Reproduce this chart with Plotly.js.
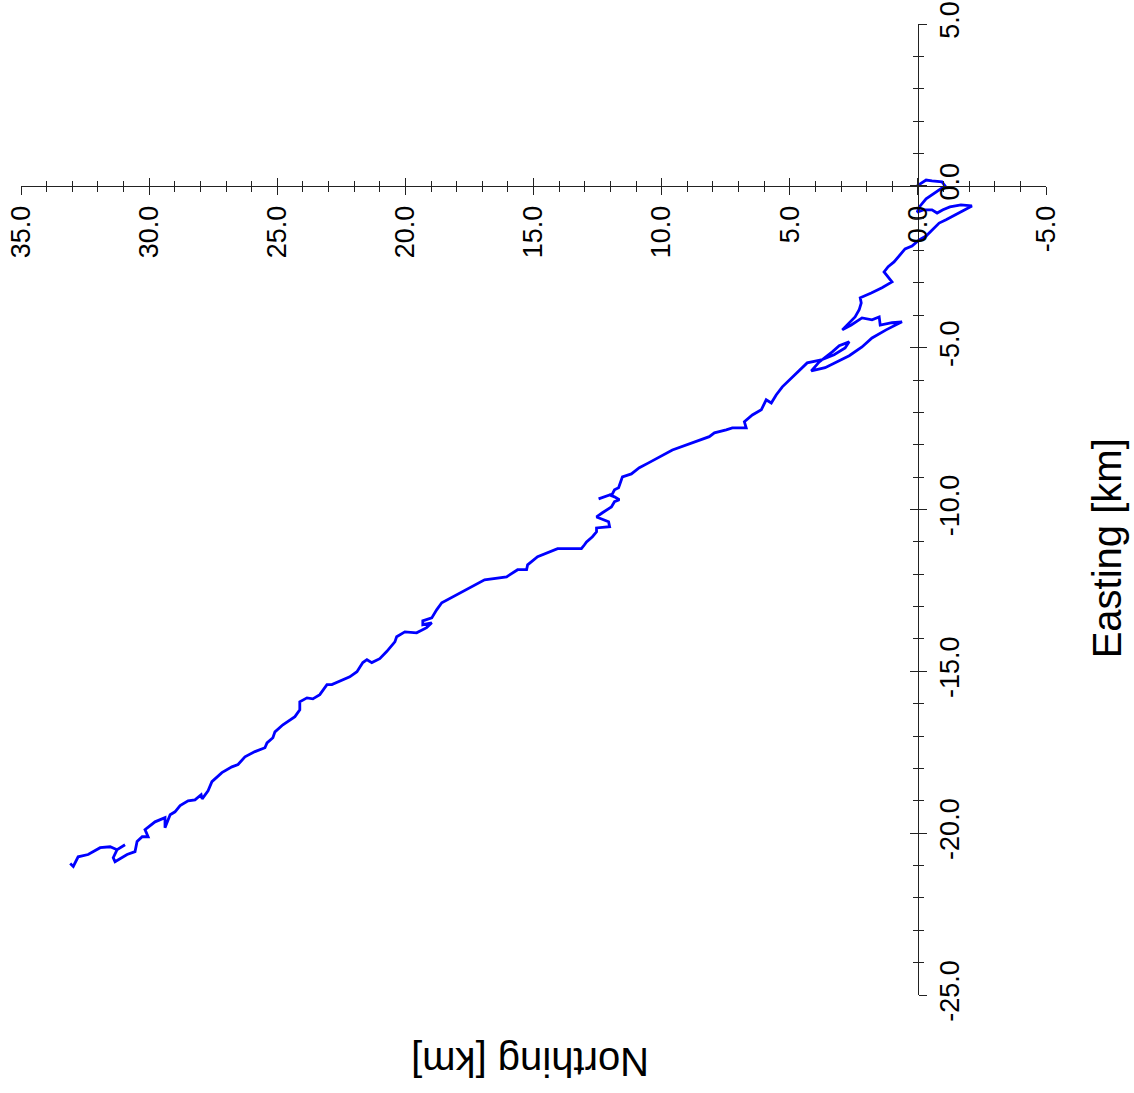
<!DOCTYPE html>
<html>
<head>
<meta charset="utf-8">
<script src="https://cdn.plot.ly/plotly-3.0.1.min.js"></script>
<style>
  html, body { margin: 0; padding: 0; background: #ffffff; }
  #chart { width: 1134px; height: 1093px; }
</style>
</head>
<body>
<div id="chart"></div>
<script>
// Track of the survey: Northing [km] (drawn on the horizontal axis, reversed)
const northingKm = [
  0.03, -0.32, -0.55, -0.94, -1.06, -0.67, -0.32, -0.09, 0.03, -0.24,
  -0.55, -0.75, -0.98, -1.25, -1.68, -2.11, -1.84, -1.49, -1.10, -0.83,
  -0.55, -0.32, -0.05, 0.23, 0.50, 0.73, 0.93, 1.16, 1.32, 1.01,
  1.40, 1.82, 2.25, 2.21, 2.29, 2.45, 2.76, 2.95, 2.60, 2.18,
  1.79, 1.51, 1.47, 1.01, 0.62, 1.24, 1.79, 2.18, 2.68, 3.15,
  3.62, 4.16, 3.85, 3.34, 3.07, 2.68, 2.84, 3.27, 3.77, 4.32,
  4.75, 4.90, 5.29, 5.53, 5.72, 5.92, 6.11, 6.46, 6.77, 6.70,
  7.24, 7.48, 7.94, 8.14, 9.03, 9.58, 10.51, 10.87, 11.18, 11.53,
  11.68, 11.84, 11.92, 12.46, 12.03, 11.84, 11.65, 11.84, 11.96, 12.31,
  12.54, 12.07, 12.03, 12.54, 12.54, 12.70, 12.93, 13.01, 13.13, 14.06,
  14.45, 14.84, 15.23, 15.27, 15.62, 16.05, 16.91, 17.88, 18.27, 18.58,
  18.78, 18.97, 19.32, 19.32, 18.97, 19.17, 19.56, 20.02, 20.34, 20.41,
  20.73, 21.00, 21.31, 21.50, 21.66, 21.89, 22.17, 22.56, 22.87, 23.06,
  23.34, 23.61, 23.84, 24.12, 24.12, 24.31, 24.78, 25.09, 25.17, 25.40,
  25.48, 25.87, 26.26, 26.53, 26.77, 27.16, 27.55, 27.70, 27.93, 27.97,
  28.21, 28.48, 28.79, 28.99, 29.18, 29.38, 29.38, 29.77, 30.16, 30.04,
  30.27, 30.47, 30.55, 30.86, 31.33, 31.40, 31.25, 30.94, 31.25, 31.52,
  31.91, 32.38, 32.77, 32.96, 33.08
];
// Easting [km] (drawn on the vertical axis)
const eastingKm = [
  0.00, 0.18, 0.15, 0.12, 0.00, -0.22, -0.40, -0.62, -0.81, -0.74,
  -0.74, -0.84, -0.74, -0.65, -0.59, -0.62, -0.74, -0.90, -1.05, -1.15,
  -1.36, -1.55, -1.67, -1.86, -1.95, -2.17, -2.35, -2.50, -2.66, -2.97,
  -3.15, -3.31, -3.46, -3.62, -3.83, -4.05, -4.30, -4.45, -4.30, -4.08,
  -4.14, -4.05, -4.30, -4.23, -4.20, -4.45, -4.70, -4.98, -5.25, -5.44,
  -5.62, -5.72, -5.44, -5.13, -4.94, -4.82, -5.01, -5.22, -5.38, -5.47,
  -5.81, -5.90, -6.21, -6.46, -6.71, -6.61, -6.92, -7.08, -7.29, -7.48,
  -7.48, -7.54, -7.63, -7.75, -8.00, -8.16, -8.56, -8.71, -8.90, -8.99,
  -9.33, -9.39, -9.52, -9.67, -9.55, -9.61, -9.70, -9.76, -9.92, -10.10,
  -10.23, -10.38, -10.53, -10.57, -10.69, -10.84, -11.00, -11.09, -11.21, -11.21,
  -11.34, -11.46, -11.71, -11.86, -11.86, -12.08, -12.17, -12.57, -12.73, -12.88,
  -13.10, -13.35, -13.44, -13.56, -13.50, -13.65, -13.81, -13.78, -13.93, -14.09,
  -14.39, -14.61, -14.73, -14.64, -14.73, -15.01, -15.17, -15.29, -15.41, -15.41,
  -15.72, -15.85, -15.82, -15.94, -16.19, -16.40, -16.65, -16.87, -17.05, -17.21,
  -17.36, -17.48, -17.64, -17.88, -17.95, -18.13, -18.41, -18.69, -18.94, -18.81,
  -18.97, -19.00, -19.15, -19.34, -19.43, -19.83, -19.52, -19.65, -19.89, -20.11,
  -20.11, -20.26, -20.57, -20.66, -20.88, -20.76, -20.51, -20.36, -20.51, -20.42,
  -20.45, -20.66, -20.73, -21.03, -20.94
];

// Axis ranges and labelled ticks
const northingRange = [35, -5];
const eastingRange = [-25, 5];
const northingTickVals = [35, 30, 25, 20, 15, 10, 5, 0, -5];
const northingTickText = ['35.0', '30.0', '25.0', '20.0', '15.0', '10.0', '5.0', '0.0', '-5.0'];
const eastingTickVals = [5, 0, -5, -10, -15, -20, -25];
const eastingTickText = ['5.0', '0.0', '-5.0', '-10.0', '-15.0', '-20.0', '-25.0'];
const minorStep = 1;
const northingTitle = 'Northing [km]';
const eastingTitle = 'Easting [km]';

const axisColor = '#222222';
const fontFamily = 'Liberation Sans, Arial, Helvetica, sans-serif';

// where the axes cross (data origin) in normalized plot coordinates
const xAxisPos = (0 - eastingRange[0]) / (eastingRange[1] - eastingRange[0]);
const yAxisPos = (northingRange[0] - 0) / (northingRange[0] - northingRange[1]);

function minorTicks(side) {
  return { ticks: side, ticklen: 5, tickmode: 'linear', dtick: minorStep, tick0: 0,
           tickcolor: axisColor, tickwidth: 1, showgrid: false };
}

function baseAxis(range, pos, vals, text, extra) {
  return Object.assign({
    range: range,
    anchor: 'free',
    position: pos,
    showgrid: false,
    zeroline: false,
    tickmode: 'array',
    tickvals: vals,
    ticktext: text,
    tickwidth: 1,
    tickcolor: axisColor,
    linecolor: axisColor,
    linewidth: 1,
    fixedrange: true
  }, extra);
}

const traces = [
  {
    type: 'scatter', mode: 'lines',
    x: northingKm, y: eastingKm,
    xaxis: 'x', yaxis: 'y',
    line: { color: '#0000ff', width: 2.8 },
    hoverinfo: 'skip'
  },
  {
    type: 'scatter', mode: 'lines',
    x: [northingKm[0]], y: [eastingKm[0]],
    xaxis: 'x2', yaxis: 'y2',
    line: { color: 'rgba(0,0,0,0)', width: 0 },
    hoverinfo: 'skip'
  }
];

const layout = {
  width: 1134,
  height: 1093,
  margin: { l: 21, r: 88, t: 24, b: 98, pad: 0 },
  paper_bgcolor: '#ffffff',
  plot_bgcolor: '#ffffff',
  showlegend: false,
  font: { family: fontFamily, color: '#000000' },
  xaxis: baseAxis(northingRange, xAxisPos, northingTickVals, northingTickText, {
    side: 'bottom',
    showline: true,
    ticks: 'outside', ticklen: 8,
    tickangle: -90,
    tickfont: { size: 27, family: fontFamily, color: '#000000' },
    minor: minorTicks('outside')
  }),
  xaxis2: baseAxis(northingRange, xAxisPos, northingTickVals, northingTickText, {
    overlaying: 'x', side: 'bottom',
    showline: false, showticklabels: false,
    ticks: 'inside', ticklen: 8,
    minor: minorTicks('inside')
  }),
  yaxis: baseAxis(eastingRange, yAxisPos, eastingTickVals, eastingTickText, {
    side: 'right',
    showline: true,
    ticks: 'outside', ticklen: 8,
    tickangle: -90,
    tickfont: { size: 27, family: fontFamily, color: '#000000' },
    minor: minorTicks('outside')
  }),
  yaxis2: baseAxis(eastingRange, yAxisPos, eastingTickVals, eastingTickText, {
    overlaying: 'y', side: 'right',
    showline: false, showticklabels: false,
    ticks: 'inside', ticklen: 8,
    minor: minorTicks('inside')
  }),
  annotations: [
    {
      text: eastingTitle, xref: 'paper', yref: 'paper',
      x: 1.0595, y: 0.46, xanchor: 'center', yanchor: 'middle',
      textangle: -90, showarrow: false,
      font: { size: 40, family: fontFamily, color: '#000000' }
    },
    {
      text: northingTitle, xref: 'paper', yref: 'paper',
      x: 0.4966, y: -0.069, xanchor: 'center', yanchor: 'middle',
      textangle: 180, showarrow: false,
      font: { size: 40, family: fontFamily, color: '#000000' }
    }
  ]
};

Plotly.newPlot('chart', traces, layout, { displayModeBar: false, staticPlot: true });
</script>
</body>
</html>
